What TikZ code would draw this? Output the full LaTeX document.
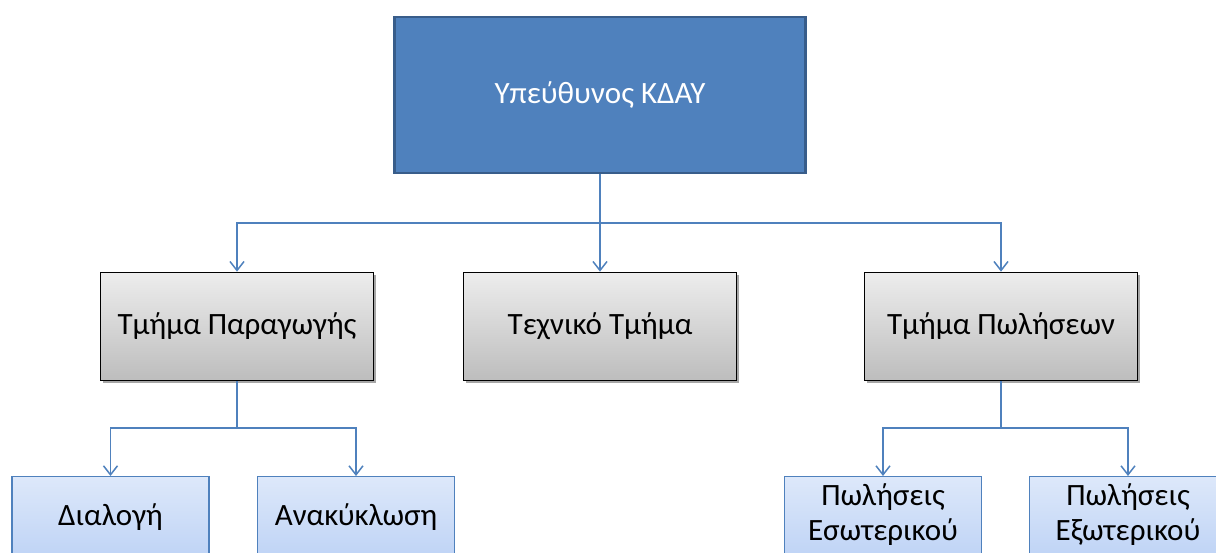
\documentclass[tikz,border=0pt]{standalone}
\usepackage{fontspec}
\setmainfont{Carlito}
\usetikzlibrary{arrows.meta,shadows}
\definecolor{accent}{HTML}{4F81BD}
\definecolor{accentdark}{HTML}{385D8A}
\definecolor{greytop}{HTML}{EDEDED}
\definecolor{greybot}{HTML}{BDBDBD}
\definecolor{bluetop}{HTML}{DDE8FA}
\definecolor{bluebot}{HTML}{A5C2F2}
\tikzset{
  bigfont/.style={font=\fontsize{31}{35}\selectfont},
  headbox/.style={draw=accentdark, line width=2.5pt, fill=accent, text=white,
    minimum width=411pt, minimum height=156pt, inner sep=0pt, bigfont},
  deptbox/.style={draw=black, line width=1.6pt, top color=greytop, bottom color=greybot,
    minimum width=273pt, minimum height=108pt, inner sep=0pt, bigfont,
    drop shadow={shadow xshift=2pt, shadow yshift=-2.5pt, fill=black, opacity=0.35}},
  unitbox/.style={draw=accent, line width=1.3pt, top color=bluetop, bottom color=bluebot,
    minimum width=197pt, minimum height=150pt, inner sep=0pt},
  unittext/.style={bigfont, align=center, inner sep=0pt},
  conn/.style={draw=accent, line width=1.6pt},
  arr/.style={conn, -{Straight Barb[length=9pt, width=14pt, line width=1.5pt]}},
}
\begin{document}
\begin{tikzpicture}[x=1pt, y=-1pt]
\useasboundingbox (0,0) rectangle (1216,552);
\node[headbox] (head) at (600,95) {Υπεύθυνος ΚΔΑΥ};
\node[deptbox] (prod) at (237,326.5) {Τμήμα Παραγωγής};
\node[deptbox] (tech) at (600,326.5) {Τεχνικό Τμήμα};
\node[deptbox] (sales) at (1001,326.5) {Τμήμα Πωλήσεων};
\node[unitbox, anchor=north] (sort) at (110.5,476) {};
\node[unitbox, anchor=north] (recy) at (356,476) {};
\node[unitbox, anchor=north] (dom) at (883,476) {};
\node[unitbox, anchor=north] (exp) at (1128,476) {};
\node[unittext] (sortt) at (110.5,517) {Διαλογή};
\node[unittext] (recyt) at (356,517) {Ανακύκλωση};
\node[unittext] (domt) at (883,515) {Πωλήσεις\\Εσωτερικού};
\node[unittext] (expt) at (1128,515) {Πωλήσεις\\Εξωτερικού};
\coordinate (j1) at (600,223);
\coordinate (j2) at (237,428);
\coordinate (j3) at (1001,428);
\draw[conn] (head.south) -- (j1);
\draw[arr] (j1) -| (prod.north);
\draw[arr] (j1) -- (tech.north);
\draw[arr] (j1) -| (sales.north);
\draw[conn] (prod.south) -- (j2);
\draw[arr] (j2) -| (sort.north);
\draw[arr] (j2) -| (recy.north);
\draw[conn] (sales.south) -- (j3);
\draw[arr] (j3) -| (dom.north);
\draw[arr] (j3) -| (exp.north);
\end{tikzpicture}
\end{document}
